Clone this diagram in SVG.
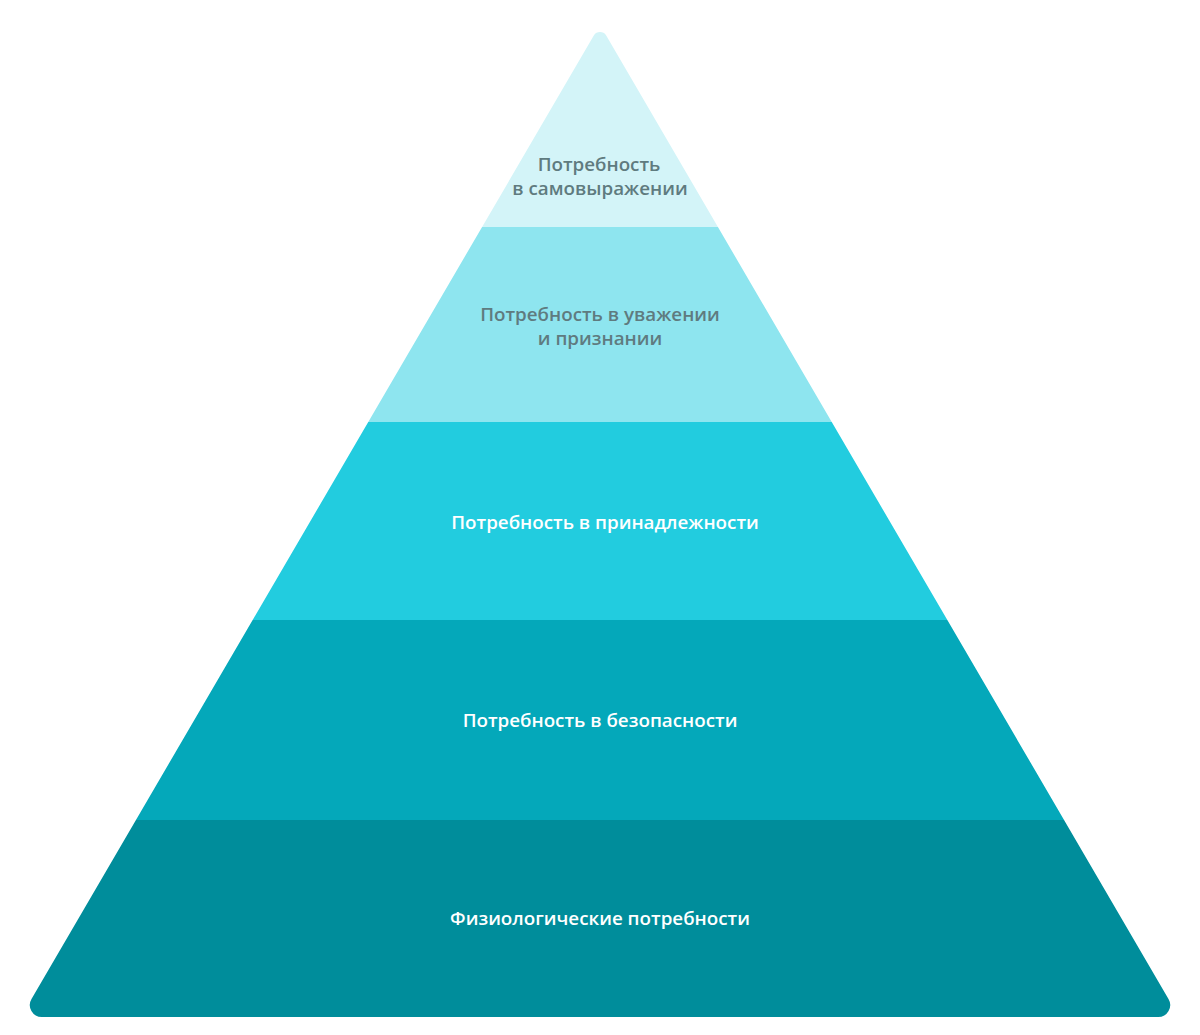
<svg xmlns="http://www.w3.org/2000/svg" width="1200" height="1035" viewBox="0 0 1200 1035">
<style>
.lbl{font-family:"Open Sans","Noto Sans","Liberation Sans",sans-serif;font-size:18.8px;font-weight:600;text-anchor:middle}
.dark{fill:#5f7b7f}
.light{fill:#ffffff}
</style>
<defs>
<clipPath id="pyr">
<path d="M593.95,35.36 A7,7 0 0 1 606.05,35.36 L1168.5,998.9 A12,12 0 0 1 1158.1,1017 L41.9,1017 A12,12 0 0 1 31.5,998.9 Z"/>
</clipPath>
</defs>
<rect width="1200" height="1035" fill="#ffffff"/>
<g clip-path="url(#pyr)">
<g id="level5"><rect x="0" y="0" width="1200" height="227" fill="#d3f4f8"/></g>
<g id="level4"><rect x="0" y="227" width="1200" height="195" fill="#8ee5ef"/></g>
<g id="level3"><rect x="0" y="422" width="1200" height="198" fill="#22ccdf"/></g>
<g id="level2"><rect x="0" y="620" width="1200" height="200" fill="#04a8ba"/></g>
<g id="level1"><rect x="0" y="820" width="1200" height="215" fill="#008d9b"/></g>
</g>
<g id="labels">
<text class="lbl dark" x="599" y="171">Потребность</text>
<text class="lbl dark" x="600" y="195">в самовыражении</text>
<text class="lbl dark" x="600" y="321">Потребность в уважении</text>
<text class="lbl dark" x="600" y="345">и признании</text>
<text class="lbl light" x="605" y="529">Потребность в принадлежности</text>
<text class="lbl light" x="600" y="727">Потребность в безопасности</text>
<text class="lbl light" x="600" y="925">Физиологические потребности</text>
</g>
<g id="connectors"/>
</svg>
